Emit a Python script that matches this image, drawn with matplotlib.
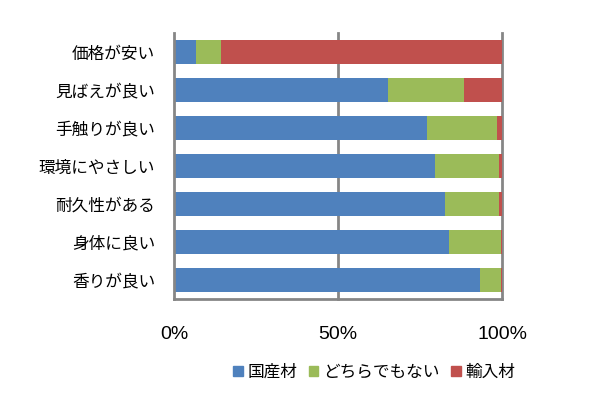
import matplotlib
matplotlib.use("Agg")
import matplotlib.pyplot as plt
from matplotlib.patches import Patch
import numpy as np

plt.rcParams['font.family'] = ['Noto Sans CJK JP', 'DejaVu Sans']

categories = ["価格が安い", "見ばえが良い", "手触りが良い", "環境にやさしい", "耐久性がある", "身体に良い", "香りが良い"]
domestic = [6.6, 65.3, 77.2, 79.6, 82.6, 83.7, 93.4]
neutral = [7.7, 23.0, 21.2, 19.4, 16.4, 16.0, 6.3]
imported = [85.7, 11.7, 1.6, 1.0, 1.0, 0.3, 0.3]
series_names = ["国産材", "どちらでもない", "輸入材"]
xticks = [0, 50, 100]
xticklabels = ["0%", "50%", "100%"]

colors = ["#4F81BD", "#9BBB59", "#C0504D"]
grid_c = "#868686"

fig = plt.figure(figsize=(6, 3.93), dpi=100)
ax = fig.add_axes([0.29, 0.2402, 0.5467, 0.6753])

y = np.arange(len(categories))
left = np.zeros(len(categories))
for vals, c in zip([domestic, neutral, imported], colors):
    ax.barh(y, vals, left=left, height=0.63, color=c, zorder=3)
    left = left + np.array(vals)

ax.set_xlim(0, 100)
ax.set_ylim(len(categories) - 0.5, -0.5)
for x in xticks[1:]:
    ax.axvline(x, color=grid_c, lw=2, zorder=1, clip_on=False)
for s in ["top", "right"]:
    ax.spines[s].set_visible(False)
for s in ["left", "bottom"]:
    ax.spines[s].set_color(grid_c)
    ax.spines[s].set_linewidth(2)
    ax.spines[s].set_zorder(4)

ax.set_yticks(y)
ax.set_yticklabels(categories, fontsize=12)
ax.set_xticks(xticks)
ax.set_xticklabels(xticklabels, fontsize=14, family=['Liberation Sans', 'DejaVu Sans'])
ax.tick_params(axis='y', length=0, pad=13.5)
ax.tick_params(axis='x', length=0, pad=20)

handles = [Patch(color=c) for c in colors]
fig.legend(handles, series_names, loc='center', bbox_to_anchor=(0.624, 0.052),
           ncol=3, frameon=False, fontsize=12, handlelength=0.55, handleheight=0.55,
           handletextpad=0.3, columnspacing=0.7)

fig.savefig("out.png", dpi=100)
